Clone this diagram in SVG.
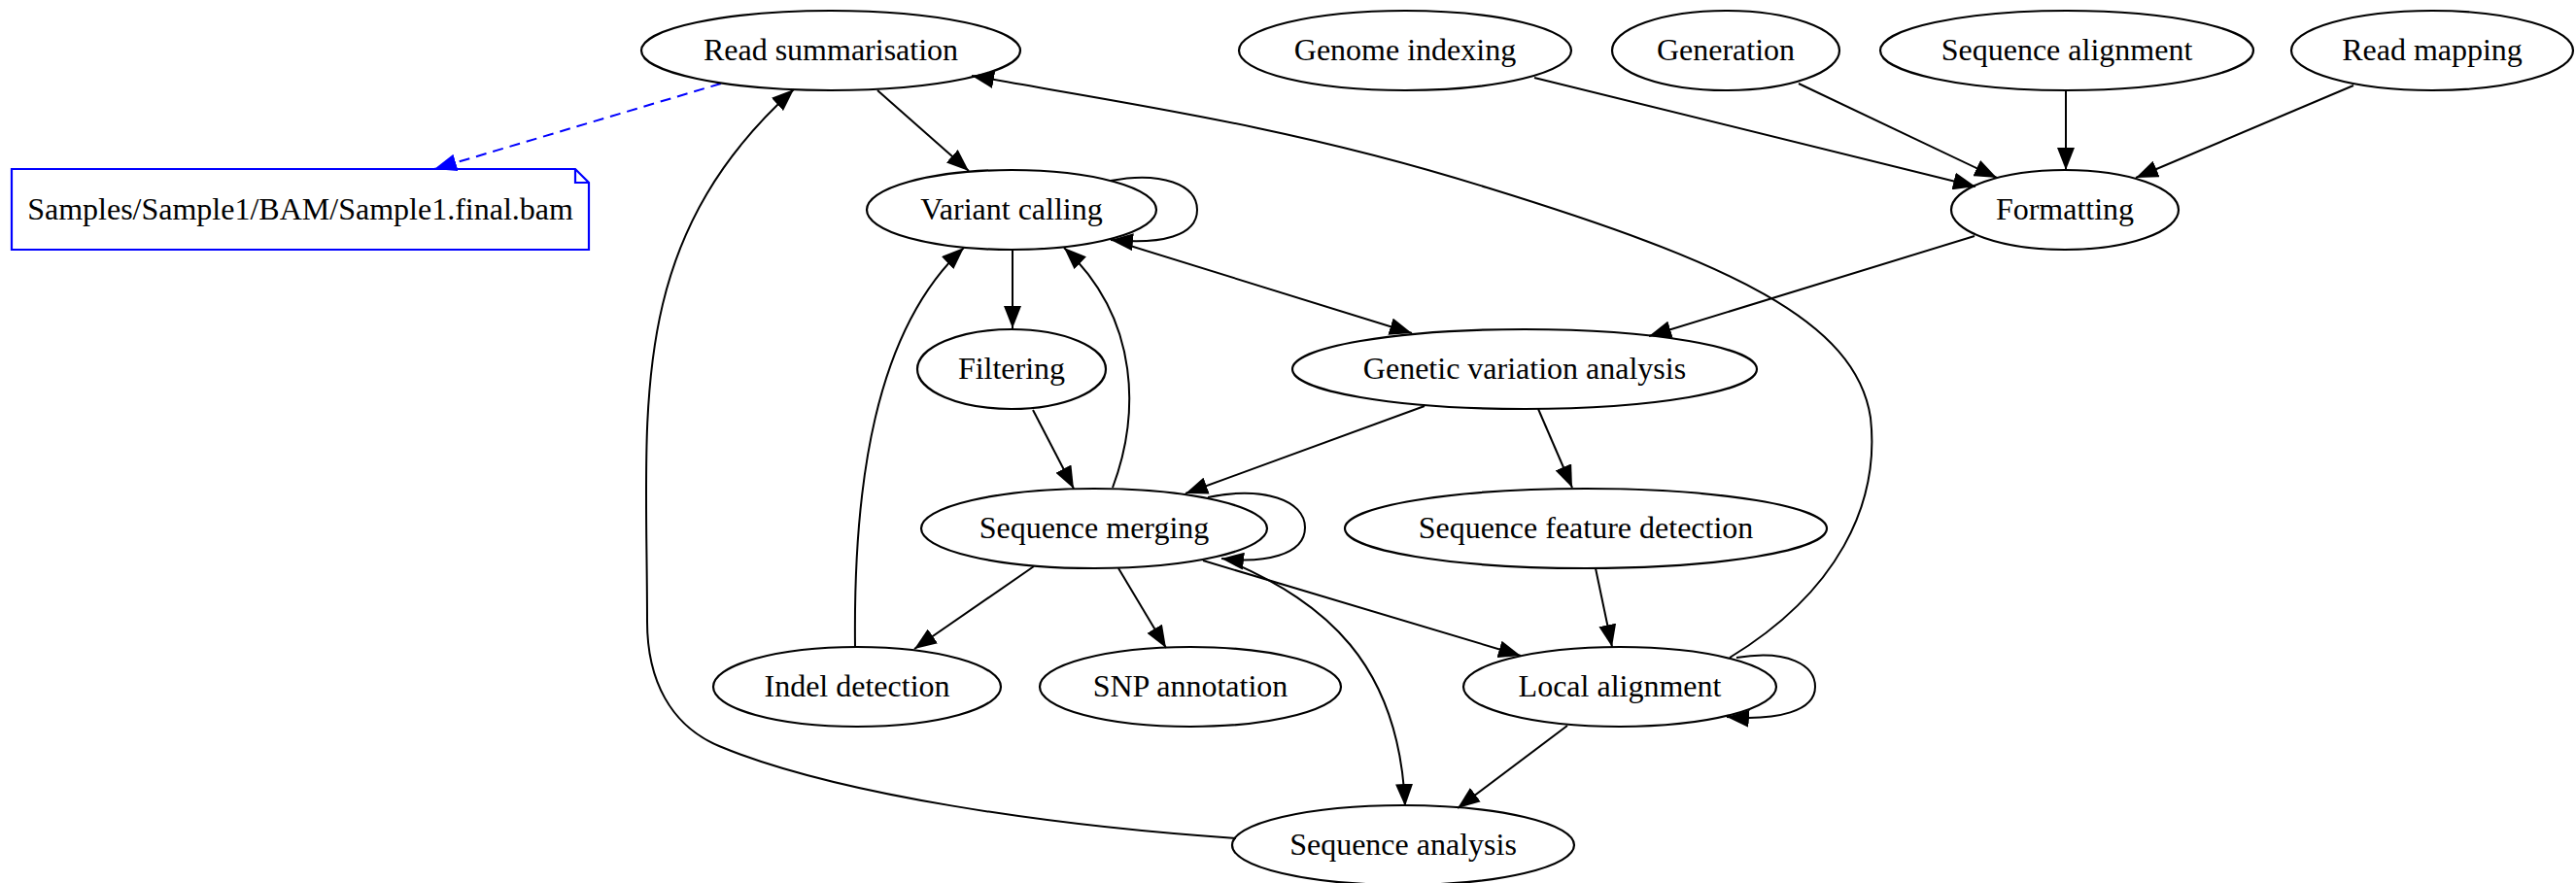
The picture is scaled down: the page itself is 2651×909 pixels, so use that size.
<svg xmlns="http://www.w3.org/2000/svg" width="2651" height="909" viewBox="0 0 2651 909">
<style>
.node ellipse{fill:none;stroke:#000;stroke-width:2.2}
.node text{font-family:"Liberation Serif","Times New Roman",serif;font-size:32px;text-anchor:middle;fill:#000}
.edge path{fill:none;stroke:#000;stroke-width:2;marker-end:url(#ah)}
.edge path.blue{stroke:#0000ff;stroke-dasharray:11,7;marker-end:url(#ahb)}
.note path{fill:none;stroke:#0000ff;stroke-width:2.2}
</style>
<defs>
<marker id="ah" markerUnits="userSpaceOnUse" viewBox="0 0 24 18" markerWidth="24" markerHeight="18" refX="23" refY="9" orient="auto"><path d="M0,0 L23,9 L0,18 z" fill="#000"/></marker>
<marker id="ahb" markerUnits="userSpaceOnUse" viewBox="0 0 24 18" markerWidth="24" markerHeight="18" refX="23" refY="9" orient="auto"><path d="M0,0 L23,9 L0,18 z" fill="#0000ff"/></marker>
</defs>
<rect width="2651" height="909" fill="#fff"/>
<g id="edges" class="edge">
<path class="blue" d="M742,86 L447,174"/>
<path d="M903,93 L997,176"/>
<path d="M1143,186 C1195,176 1232,190 1232,216 C1232,243 1195,252 1143,247"/>
<path d="M1042,257 L1042,338"/>
<path d="M1163,253 L1453,343"/>
<path d="M1145,502 C1172,430 1175,330 1095,255"/>
<path d="M880,666 C878,500 900,340 992,255"/>
<path d="M1063,422 L1105,503"/>
<path d="M1466,418 L1220,508"/>
<path d="M1583,421 L1618,502"/>
<path d="M1243,512 C1300,500 1343,515 1343,543 C1343,572 1300,580 1257,575"/>
<path d="M1064,583 L941,668"/>
<path d="M1151,585 L1200,667"/>
<path d="M1238,577 L1565,675"/>
<path d="M1270,580 C1360,620 1440,680 1446,830"/>
<path d="M1642,585 L1659,666"/>
<path d="M1787,677 C1840,668 1868,685 1868,707 C1868,732 1830,742 1777,738"/>
<path d="M1613,747 L1500,832"/>
<path d="M1780,677 C1890,610 1935,520 1925,430 C1910,330 1780,270 1530,193 C1330,130 1150,105 1000,78"/>
<path d="M1272,863 C1080,850 860,818 740,768 C690,747 666,700 666,640 C666,420 642,250 817,92"/>
<path d="M1579,80 L2033,192"/>
<path d="M1851,86 L2055,183"/>
<path d="M2126,93 L2126,175"/>
<path d="M2422,88 L2198,183"/>
<path d="M2032,243 L1697,346"/>
</g>
<g id="sample1_bam" class="note">
<path d="M12,174 L592,174 L606,188 L606,257 L12,257 Z"/>
<path d="M592,174 L592,188 L606,188"/>
<text x="309" y="226" font-family="Liberation Serif, Times New Roman, serif" font-size="32" text-anchor="middle">Samples/Sample1/BAM/Sample1.final.bam</text>
</g>
<g id="read_summarisation" class="node"><ellipse cx="855" cy="52" rx="195" ry="41"/><text x="855" y="62">Read summarisation</text></g>
<g id="genome_indexing" class="node"><ellipse cx="1446" cy="52" rx="171" ry="41"/><text x="1446" y="62">Genome indexing</text></g>
<g id="generation" class="node"><ellipse cx="1776" cy="52" rx="117" ry="41"/><text x="1776" y="62">Generation</text></g>
<g id="sequence_alignment" class="node"><ellipse cx="2127" cy="52" rx="192" ry="41"/><text x="2127" y="62">Sequence alignment</text></g>
<g id="read_mapping" class="node"><ellipse cx="2503" cy="52" rx="145" ry="41"/><text x="2503" y="62">Read mapping</text></g>
<g id="formatting" class="node"><ellipse cx="2125" cy="216" rx="117" ry="41"/><text x="2125" y="226">Formatting</text></g>
<g id="variant_calling" class="node"><ellipse cx="1041" cy="216" rx="149" ry="41"/><text x="1041" y="226">Variant calling</text></g>
<g id="filtering" class="node"><ellipse cx="1041" cy="380" rx="97" ry="41"/><text x="1041" y="390">Filtering</text></g>
<g id="genetic_variation_analysis" class="node"><ellipse cx="1569" cy="380" rx="239" ry="41"/><text x="1569" y="390">Genetic variation analysis</text></g>
<g id="sequence_merging" class="node"><ellipse cx="1126" cy="544" rx="178" ry="41"/><text x="1126" y="554">Sequence merging</text></g>
<g id="sequence_feature_detection" class="node"><ellipse cx="1632" cy="544" rx="248" ry="41"/><text x="1632" y="554">Sequence feature detection</text></g>
<g id="indel_detection" class="node"><ellipse cx="882" cy="707" rx="148" ry="41"/><text x="882" y="717">Indel detection</text></g>
<g id="snp_annotation" class="node"><ellipse cx="1225" cy="707" rx="155" ry="41"/><text x="1225" y="717">SNP annotation</text></g>
<g id="local_alignment" class="node"><ellipse cx="1667" cy="707" rx="161" ry="41"/><text x="1667" y="717">Local alignment</text></g>
<g id="sequence_analysis" class="node"><ellipse cx="1444" cy="870" rx="176" ry="41"/><text x="1444" y="880">Sequence analysis</text></g>
</svg>
